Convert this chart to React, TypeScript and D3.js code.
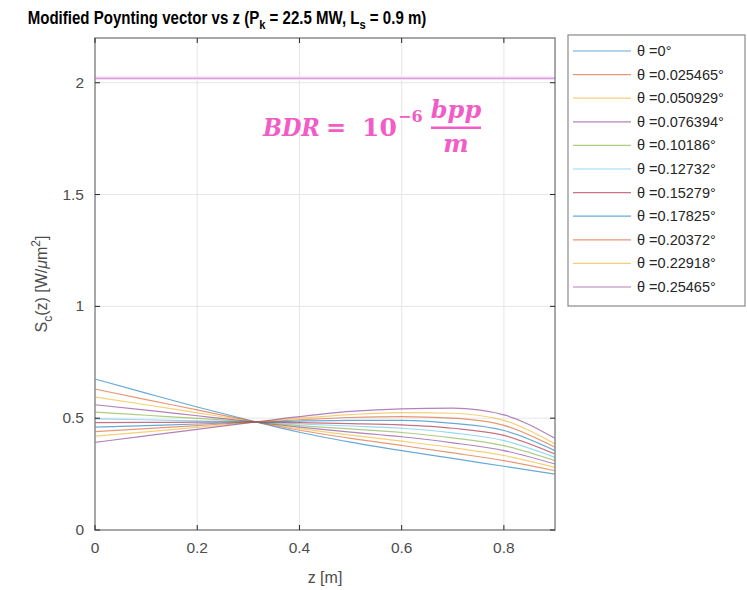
import React from "react";
import * as d3 from "d3";

const zGrid = [0, 0.1, 0.2, 0.3, 0.4, 0.5, 0.6, 0.7, 0.8, 0.9];
const thetaLabels = ["0", "0.025465", "0.050929", "0.076394", "0.10186", "0.12732", "0.15279", "0.17825", "0.20372", "0.22918", "0.25465"];
const s0 = [0.675, 0.612, 0.55, 0.492, 0.437, 0.393, 0.355, 0.32, 0.285, 0.25];
const s1 = [0.63, 0.583, 0.537, 0.49, 0.446, 0.41, 0.378, 0.345, 0.31, 0.265];
const s2 = [0.595, 0.56, 0.524, 0.488, 0.453, 0.424, 0.397, 0.368, 0.333, 0.28];
const s3 = [0.56, 0.536, 0.511, 0.486, 0.46, 0.438, 0.417, 0.39, 0.355, 0.295];
const s4 = [0.527, 0.513, 0.499, 0.485, 0.467, 0.452, 0.436, 0.412, 0.377, 0.31];
const s5 = [0.497, 0.493, 0.488, 0.484, 0.474, 0.465, 0.455, 0.434, 0.4, 0.325];
const s6 = [0.48, 0.481, 0.482, 0.483, 0.48, 0.476, 0.47, 0.455, 0.423, 0.34];
const s7 = [0.46, 0.467, 0.474, 0.482, 0.487, 0.49, 0.49, 0.477, 0.445, 0.355];
const s8 = [0.44, 0.453, 0.467, 0.481, 0.493, 0.503, 0.507, 0.5, 0.468, 0.37];
const s9 = [0.42, 0.439, 0.459, 0.48, 0.5, 0.516, 0.525, 0.522, 0.49, 0.385];
const s10 = [0.392, 0.421, 0.45, 0.479, 0.507, 0.53, 0.542, 0.545, 0.515, 0.41];
const seriesValues = [s0, s1, s2, s3, s4, s5, s6, s7, s8, s9, s10];
const bdrLevel = 2.02;
const xTicks = [0, 0.2, 0.4, 0.6, 0.8];
const yTicks = [0, 0.5, 1, 1.5, 2];
const colors = ["#0072BD", "#D95319", "#EDB120", "#7E2F8E", "#77AC30", "#4DBEEE", "#A2142F"];

export default function App() {
  const L = 95, R = 555, T = 38, B = 530;
  const x = d3.scaleLinear().domain([0, 0.9]).range([L, R]);
  const y = d3.scaleLinear().domain([0, 2.2]).range([B, T]);
  const line = d3
    .line<[number, number]>()
    .x((d) => x(d[0]))
    .y((d) => y(d[1]))
    .curve(d3.curveMonotoneX);
  const font = "Helvetica, Arial, 'Liberation Sans', sans-serif";
  const axisCol = "#262626";
  const legX = 568, legY = 35, legW = 177, legH = 271;
  const rowH = 23.6;
  return (
    <svg width={747} height={590} style={{ position: "absolute", left: 0, top: 0, background: "#fff" }}>
      <rect x={0} y={0} width={747} height={590} fill="#fff" />
      <g transform="translate(227,24) scale(0.86,1)">
        <text x={0} y={0} textAnchor="middle" fontFamily={font} fontWeight="bold" fontSize={17.5} fill="#000">
          Modified Poynting vector vs z (P
          <tspan dy={5} fontSize={13}>k</tspan>
          <tspan dy={-5}> = 22.5 MW, L</tspan>
          <tspan dy={5} fontSize={13}>s</tspan>
          <tspan dy={-5}> = 0.9 m)</tspan>
        </text>
      </g>
      {/* grid */}
      {xTicks.filter((t) => t > 0).map((t) => (
        <line key={"gx" + t} x1={x(t)} x2={x(t)} y1={T} y2={B} stroke="#e6e6e6" strokeWidth={1} />
      ))}
      {yTicks.filter((t) => t > 0).map((t) => (
        <line key={"gy" + t} x1={L} x2={R} y1={y(t)} y2={y(t)} stroke="#e6e6e6" strokeWidth={1} />
      ))}
      {/* series */}
      {seriesValues.map((vals, i) => (
        <path
          key={"s" + i}
          d={line(vals.map((v, j) => [zGrid[j], v] as [number, number])) || ""}
          fill="none"
          stroke={colors[i % colors.length]}
          strokeOpacity={0.6}
          strokeWidth={1.2}
        />
      ))}
      <line x1={x(0)} x2={x(0.9)} y1={y(bdrLevel)} y2={y(bdrLevel)} stroke="#f7dcf7" strokeWidth={3.5} />
      <line x1={x(0)} x2={x(0.9)} y1={y(bdrLevel)} y2={y(bdrLevel)} stroke="#cf8fd0" strokeWidth={1.1} />
      {/* axes box */}
      <rect x={L} y={T} width={R - L} height={B - T} fill="none" stroke="#8a8a8a" strokeWidth={1.5} />
      {xTicks.map((t) => (
        <g key={"xt" + t}>
          <line x1={x(t)} x2={x(t)} y1={B} y2={B - 5} stroke={axisCol} />
          <line x1={x(t)} x2={x(t)} y1={T} y2={T + 5} stroke={axisCol} />
          <text x={x(t)} y={B + 23} textAnchor="middle" fontFamily={font} fontSize={15.5} fill="#4d4d4d">
            {t === 0 ? "0" : String(t)}
          </text>
        </g>
      ))}
      {yTicks.map((t) => (
        <g key={"yt" + t}>
          <line x1={L} x2={L + 5} y1={y(t)} y2={y(t)} stroke={axisCol} />
          <line x1={R} x2={R - 5} y1={y(t)} y2={y(t)} stroke={axisCol} />
          <text x={L - 11} y={y(t) + 5} textAnchor="end" fontFamily={font} fontSize={15.5} fill="#4d4d4d">
            {String(t)}
          </text>
        </g>
      ))}
      <text x={(L + R) / 2} y={583} textAnchor="middle" fontFamily={font} fontSize={16} fill="#4d4d4d">
        z [m]
      </text>
      <text
        transform={`translate(47, ${(T + B) / 2}) rotate(-90)`}
        textAnchor="middle"
        fontFamily={font}
        fontSize={16}
        fill="#4d4d4d"
      >
        S<tspan dy={5} fontSize={12}>c</tspan>
        <tspan dy={-5}>(z) [W/</tspan>
        <tspan fontStyle="italic">μ</tspan>
        <tspan>m</tspan>
        <tspan dy={-7} fontSize={12}>2</tspan>
        <tspan dy={7}>]</tspan>
      </text>
      {/* annotation */}
      <g fill="#f25cc6" fontFamily="'DejaVu Serif', 'Liberation Serif', serif" fontWeight="bold" fontStyle="italic">
        <text x={263} y={136} fontSize={24} textLength={57} lengthAdjust="spacingAndGlyphs">BDR</text>
        <text x={326} y={136} fontSize={24} fontStyle="normal">=</text>
        <text x={362} y={136} fontSize={25} fontStyle="normal">10</text>
        <text x={398} y={122} fontSize={16} fontStyle="normal">−6</text>
        <text x={456} y={118} fontSize={24} textAnchor="middle">bpp</text>
        <rect x={431} y={126.5} width={50} height={2.5} />
        <text x={456} y={152} fontSize={24} textAnchor="middle">m</text>
      </g>
      {/* legend */}
      <rect x={legX} y={legY} width={legW} height={legH} fill="#fff" stroke="#8a8a8a" strokeWidth={1.2} />
      {thetaLabels.map((lab, i) => {
        const yy = legY + 16 + i * rowH;
        return (
          <g key={"lg" + i}>
            <line x1={573} x2={631} y1={yy} y2={yy} stroke={colors[i % colors.length]} strokeOpacity={0.6} strokeWidth={1.2} />
            <text x={637} y={yy + 5} fontFamily={font} fontSize={14.5} fill="#262626">
              θ ={lab}°
            </text>
          </g>
        );
      })}
    </svg>
  );
}
